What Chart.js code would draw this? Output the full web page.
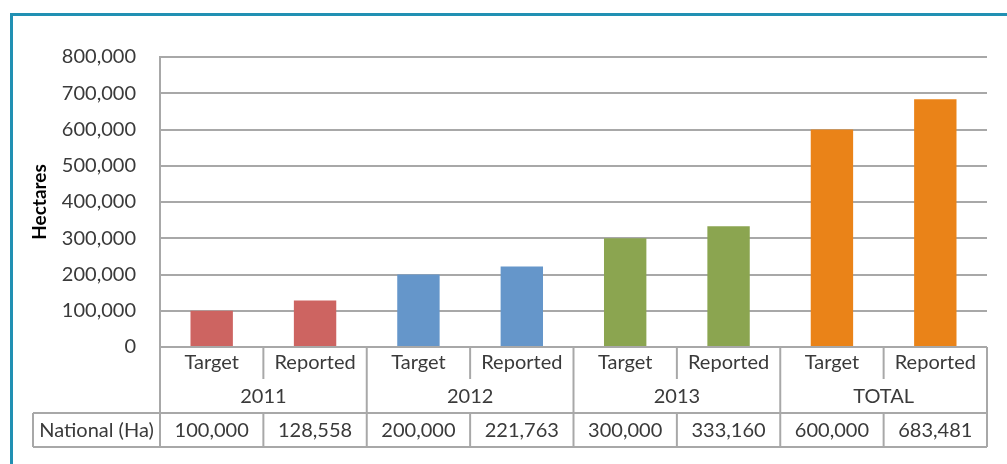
<!DOCTYPE html>
<html lang="en">
<head>
    <meta charset="UTF-8">
    <title>Hectares - Target vs Reported</title>
    <script src="https://cdn.jsdelivr.net/npm/chart.js"></script>
    <style>
        body { margin: 0; background: #fff; overflow: hidden; }
        #frame {
            position: absolute; left: 10px; top: 13px;
            width: 1010px; height: 500px;
            border: 3px solid #2190B3; box-sizing: border-box;
        }
        #chart { position: absolute; left: 0; top: 0; }
    </style>
</head>
<body>
    <div id="frame"></div>
    <canvas id="chart" width="1007" height="464"></canvas>
    <script>
// chart data
var categories = ['Target', 'Reported', 'Target', 'Reported', 'Target', 'Reported', 'Target', 'Reported'];
var groups = ['2011', '2012', '2013', 'TOTAL'];
var values = [100000, 128558, 200000, 221763, 300000, 333160, 600000, 683481];
var rowLabel = 'National (Ha)';
var yTicks = [0, 100000, 200000, 300000, 400000, 500000, 600000, 700000, 800000];

// one colour per year group
var groupColors = ['#CD6461', '#6596CA', '#8BA550', '#EA8318'];
var barColors = values.map(function(v, i) { return groupColors[Math.floor(i / 2)]; });

var lineColor = '#A8A8A8';
var textColor = '#3A3A3A';
var fontFamily = 'Lato, "Open Sans", sans-serif';

function fmt(n) { return n.toLocaleString('en-US'); }

// draws the two-level category axis and the data table under the plot
var tablePlugin = {
    id: 'tablePlugin',
    afterDraw: function(chart) {
        var ctx = chart.ctx;
        var xs = chart.scales.x;
        var yBase = chart.scales.y.getPixelForValue(0);
        var half = (xs.getPixelForValue(1) - xs.getPixelForValue(0)) / 2;
        function edge(i) { return i < categories.length ? xs.getPixelForValue(i) - half : xs.getPixelForValue(i - 1) + half; }
        var row1 = yBase + 32, row2 = yBase + 66, row3 = yBase + 100;
        var tableLeft = 33;
        var right = edge(categories.length);

        ctx.save();
        ctx.strokeStyle = lineColor;
        ctx.lineWidth = 2;
        function line(x1, y1, x2, y2) {
            ctx.beginPath(); ctx.moveTo(x1, y1); ctx.lineTo(x2, y2); ctx.stroke();
        }
        line(edge(0), yBase, right, yBase);
        line(tableLeft, row2, right, row2);
        line(tableLeft, row3, right, row3);
        line(tableLeft, row2, tableLeft, row3);
        for (var i = 0; i <= categories.length; i++) {
            if (i % 2 === 0) {
                line(edge(i), yBase, edge(i), row3);
            } else {
                line(edge(i), yBase, edge(i), row1);
                line(edge(i), row2, edge(i), row3);
            }
        }

        ctx.fillStyle = textColor;
        ctx.font = '20px ' + fontFamily;
        ctx.textAlign = 'center';
        ctx.textBaseline = 'middle';
        categories.forEach(function(c, i) {
            ctx.fillText(c, xs.getPixelForValue(i), yBase + 16);
            ctx.fillText(fmt(values[i]), xs.getPixelForValue(i), row2 + 18);
        });
        groups.forEach(function(g, k) {
            ctx.fillText(g, (edge(2 * k) + edge(2 * k + 2)) / 2, row1 + 18);
        });
        ctx.fillText(rowLabel, (tableLeft + edge(0)) / 2, row2 + 18);
        ctx.restore();
    }
};

var ctx = document.getElementById('chart').getContext('2d');
var chart = new Chart(ctx, {
    type: 'bar',
    data: {
        labels: categories,
        datasets: [{
            label: rowLabel,
            data: values,
            backgroundColor: barColors,
            borderWidth: 0,
            categoryPercentage: 1,
            barPercentage: 0.41
        }]
    },
    options: {
        responsive: false,
        animation: false,
        layout: { padding: { left: 24, top: 57, right: 20, bottom: 117 } },
        plugins: { legend: { display: false }, tooltip: { enabled: false } },
        scales: {
            x: { display: false },
            y: {
                min: 0,
                max: 800000,
                afterFit: function(scale) { scale.width = 136; },
                afterBuildTicks: function(scale) {
                    scale.ticks = yTicks.map(function(v) { return { value: v }; });
                },
                grid: { color: lineColor, lineWidth: 2, drawTicks: false },
                border: { color: lineColor, width: 2 },
                ticks: {
                    padding: 24,
                    color: textColor,
                    font: { family: fontFamily, size: 20 },
                    callback: function(v) { return fmt(v); }
                },
                title: {
                    display: true,
                    text: 'Hectares',
                    color: '#000',
                    font: { family: fontFamily, size: 19, weight: 'bold' }
                }
            }
        }
    },
    plugins: [tablePlugin]
});
    </script>
</body>
</html>
